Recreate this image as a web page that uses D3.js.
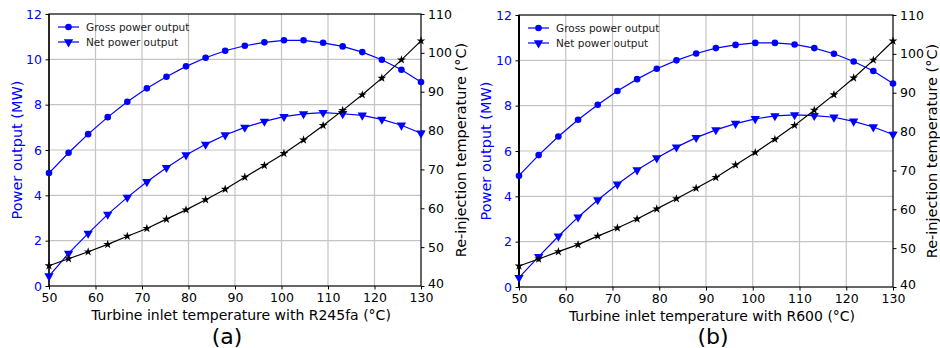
<!DOCTYPE html>
<html>
<head>
<meta charset="utf-8">
<script src="https://cdn.jsdelivr.net/npm/d3@7"></script>
<style>
  body { margin: 0; background: #fff; }
  svg { display: block; font-family: "DejaVu Sans", sans-serif; }
</style>
</head>
<body>
<svg id="chart" width="940" height="348"></svg>
<script>
// turbine inlet temperature (°C), 20 points from 50 to 130
const inletTemps = [50, 54.21, 58.42, 62.63, 66.84, 71.05, 75.26, 79.47, 83.68, 87.89,
                    92.11, 96.32, 100.53, 104.74, 108.95, 113.16, 117.37, 121.58, 125.79, 130];

// R245fa
const grossA = [4.98, 5.88, 6.70, 7.45, 8.13, 8.72, 9.23, 9.69, 10.07, 10.38,
                10.60, 10.75, 10.84, 10.84, 10.73, 10.57, 10.32, 9.98, 9.54, 9.00];
const netA = [0.44, 1.44, 2.32, 3.16, 3.91, 4.60, 5.22, 5.78, 6.25, 6.66,
              7.00, 7.26, 7.47, 7.59, 7.65, 7.60, 7.53, 7.35, 7.09, 6.74];
const reinjA = [45.2, 47.0, 48.8, 50.7, 52.8, 54.8, 57.2, 59.6, 62.2, 64.9,
                68.0, 71.0, 74.1, 77.6, 81.3, 85.2, 89.2, 93.5, 98.2, 103.1];

// R600
const grossB = [4.91, 5.82, 6.64, 7.38, 8.04, 8.65, 9.17, 9.63, 10.00, 10.30,
                10.54, 10.68, 10.77, 10.77, 10.70, 10.54, 10.29, 9.95, 9.53, 8.98];
const netB = [0.41, 1.34, 2.24, 3.08, 3.84, 4.53, 5.16, 5.69, 6.17, 6.59,
              6.93, 7.21, 7.42, 7.55, 7.59, 7.56, 7.49, 7.31, 7.06, 6.73];
const reinjB = [45.4, 47.2, 49.1, 50.9, 53.1, 55.2, 57.5, 60.1, 62.7, 65.4,
                68.2, 71.4, 74.6, 78.0, 81.6, 85.5, 89.5, 93.8, 98.4, 103.3];

const xTicks = [50, 60, 70, 80, 90, 100, 110, 120, 130];
const powerTicks = [0, 2, 4, 6, 8, 10, 12];
const tempTicks = [40, 50, 60, 70, 80, 90, 100, 110];
const legendLabels = ["Gross power output", "Net power output"];

const BLUE = "#0000ff";
const svg = d3.select("#chart");

function buildPanel(opts)
{
    const { left, right, top, bottom } = opts;

    const x = d3.scaleLinear().domain([50, 130]).range([left, right]);
    const yP = d3.scaleLinear().domain([0, 12]).range([bottom, top]);
    const yT = d3.scaleLinear().domain([40, 110]).range([bottom, top]);

    const g = svg.append("g");

    // grid
    g.append("g").selectAll("line")
        .data(xTicks.slice(1, -1))
      .join("line")
        .attr("x1", d => x(d)).attr("x2", d => x(d))
        .attr("y1", top).attr("y2", bottom)
        .attr("stroke", "#c4c4c4").attr("stroke-width", 1.2);
    g.append("g").selectAll("line")
        .data(powerTicks.slice(1, -1))
      .join("line")
        .attr("x1", left).attr("x2", right)
        .attr("y1", d => yP(d)).attr("y2", d => yP(d))
        .attr("stroke", "#c4c4c4").attr("stroke-width", 1.2);

    // axes
    const xAxis = g.append("g")
        .attr("transform", `translate(0,${bottom})`)
        .call(d3.axisBottom(x).tickValues(xTicks).tickSize(3.5).tickPadding(3.5));
    const yAxisL = g.append("g")
        .attr("transform", `translate(${left},0)`)
        .call(d3.axisLeft(yP).tickValues(powerTicks).tickSize(3.5).tickPadding(3.5));
    const yAxisR = g.append("g")
        .attr("transform", `translate(${right},0)`)
        .call(d3.axisRight(yT).tickValues(tempTicks).tickSize(3.5).tickPadding(3.5));

    for (const ax of [xAxis, yAxisL, yAxisR]) {
        ax.select(".domain").remove();
        ax.selectAll("text").attr("font-size", 12.5).attr("font-family", "DejaVu Sans");
    }
    yAxisL.selectAll("text").attr("fill", BLUE);
    yAxisL.selectAll("line").attr("stroke", "#000");
    // lowest right label sits just above the last x label
    yAxisR.selectAll("text").filter(d => d === 40).attr("y", -3);

    // frame
    g.append("rect")
        .attr("x", left).attr("y", top)
        .attr("width", right - left).attr("height", bottom - top)
        .attr("fill", "none").attr("stroke", "#000").attr("stroke-width", 1.2);
    g.append("line")
        .attr("x1", left).attr("x2", left).attr("y1", top).attr("y2", bottom)
        .attr("stroke", "#000").attr("stroke-width", opts.leftSpine);

    const line = (ys, yScale) => d3.line()
        .x((d, i) => x(inletTemps[i]))
        .y(d => yScale(d))(ys);

    const tri = d3.symbol().type(d3.symbolTriangle).size(38);
    const star = d3.symbol().type(d3.symbolStar).size(24);

    // gross
    g.append("path").attr("d", line(opts.gross, yP))
        .attr("fill", "none").attr("stroke", BLUE).attr("stroke-width", 1.2);
    g.append("g").selectAll("circle")
        .data(opts.gross)
      .join("circle")
        .attr("cx", (d, i) => x(inletTemps[i]))
        .attr("cy", d => yP(d))
        .attr("r", 3.3)
        .attr("fill", BLUE);

    // net
    g.append("path").attr("d", line(opts.net, yP))
        .attr("fill", "none").attr("stroke", BLUE).attr("stroke-width", 1.2);
    g.append("g").selectAll("path")
        .data(opts.net)
      .join("path")
        .attr("d", tri)
        .attr("transform", (d, i) => `translate(${x(inletTemps[i])},${yP(d)}) rotate(180)`)
        .attr("fill", BLUE);

    // re-injection temperature
    g.append("path").attr("d", line(opts.reinj, yT))
        .attr("fill", "none").attr("stroke", "#000").attr("stroke-width", 1.2);
    g.append("g").selectAll("path")
        .data(opts.reinj)
      .join("path")
        .attr("d", star)
        .attr("transform", (d, i) => `translate(${x(inletTemps[i])},${yT(d)})`)
        .attr("fill", "#000");

    // legend
    const leg = g.append("g").attr("transform", `translate(${left + 9},${top + 13})`);
    legendLabels.forEach((label, i) => {
        const row = leg.append("g").attr("transform", `translate(0,${i * 15})`);
        row.append("line").attr("x1", 0).attr("x2", 21).attr("y1", 0).attr("y2", 0)
            .attr("stroke", BLUE).attr("stroke-width", 1.2);
        if (i === 0) {
            row.append("circle").attr("cx", 10.5).attr("cy", 0).attr("r", 3.3).attr("fill", BLUE);
        } else {
            row.append("path").attr("d", tri)
                .attr("transform", "translate(10.5,0) rotate(180)").attr("fill", BLUE);
        }
        row.append("text").attr("x", 28).attr("y", 3.8)
            .attr("font-size", 10.5).attr("fill", "#222").text(label);
    });

    // axis titles
    const mid = (top + bottom) / 2;
    g.append("text")
        .attr("transform", `translate(${opts.leftLabelX},${mid}) rotate(-90)`)
        .attr("text-anchor", "middle").attr("dominant-baseline", "central")
        .attr("font-size", 14.5).attr("fill", BLUE)
        .text("Power output (MW)");
    g.append("text")
        .attr("transform", `translate(${opts.rightLabelX},${mid}) rotate(-90)`)
        .attr("text-anchor", "middle").attr("dominant-baseline", "central")
        .attr("font-size", 14.5).attr("fill", "#000")
        .text("Re-injection temperature (°C)");
    g.append("text")
        .attr("x", (left + right) / 2 + 6).attr("y", bottom + 33.5)
        .attr("text-anchor", "middle")
        .attr("font-size", 14).attr("fill", "#000")
        .text(opts.xLabel);
    g.append("text")
        .attr("x", opts.tagX).attr("y", 343.5)
        .attr("text-anchor", "middle")
        .attr("font-size", 22).attr("fill", "#000")
        .text(opts.tag);
}

buildPanel({
    left: 49, right: 421, top: 14, bottom: 286,
    gross: grossA, net: netA, reinj: reinjA,
    leftLabelX: 17, rightLabelX: 461, leftSpine: 1.2,
    xLabel: "Turbine inlet temperature with R245fa (°C)",
    tag: "(a)", tagX: 227
});

buildPanel({
    left: 519, right: 893, top: 15, bottom: 287,
    gross: grossB, net: netB, reinj: reinjB,
    leftLabelX: 486, rightLabelX: 932, leftSpine: 2,
    xLabel: "Turbine inlet temperature with R600 (°C)",
    tag: "(b)", tagX: 713
});
</script>
</body>
</html>
